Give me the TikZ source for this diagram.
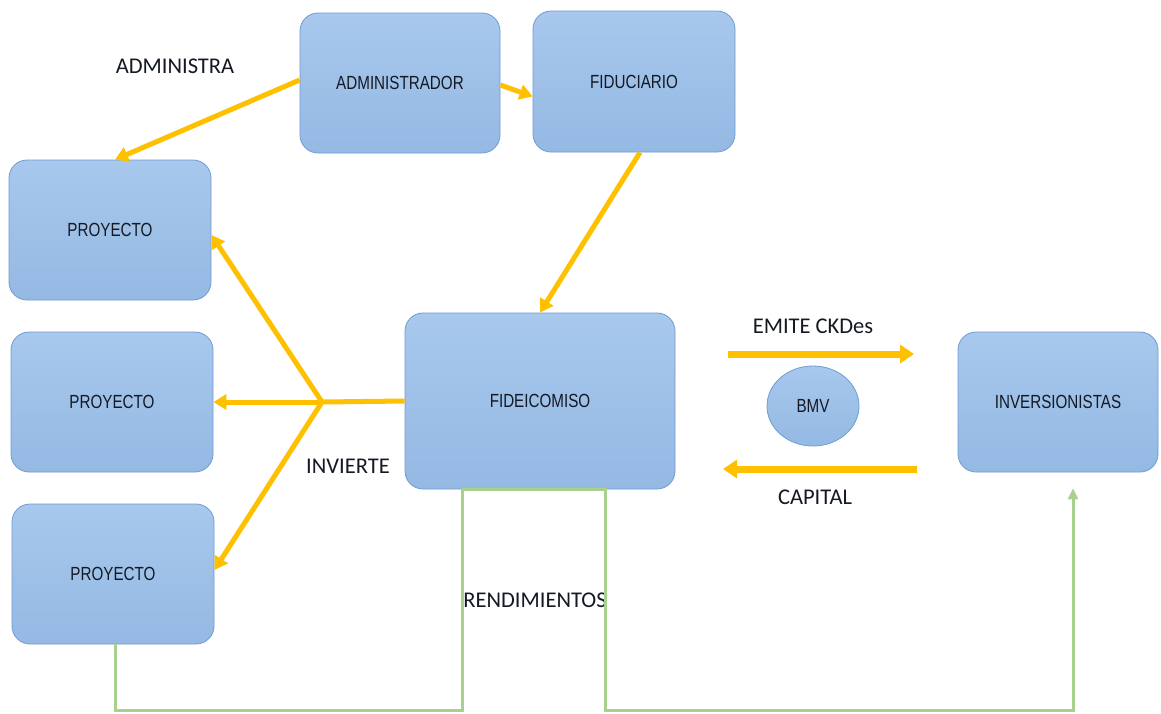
\documentclass[tikz,border=0pt]{standalone}
\usepackage{fontspec}
\setmainfont{Carlito}
\newfontfamily\narrowfont[FakeStretch=0.8]{Liberation Sans}
\usetikzlibrary{arrows.meta,shapes.geometric,calc}
\definecolor{boxtop}{RGB}{168,200,237}
\definecolor{boxbot}{RGB}{148,185,227}
\definecolor{boxline}{RGB}{112,155,210}
\definecolor{orangeln}{RGB}{255,192,0}
\definecolor{greenln}{RGB}{169,209,142}
\definecolor{txt}{RGB}{20,25,35}
\begin{document}
\begin{tikzpicture}[x=1pt,y=-1pt,
  box/.style={draw=boxline, line width=0.8pt, rounded corners=18pt,
    top color=boxtop, bottom color=boxbot, inner sep=0pt,
    text=txt, font=\narrowfont\fontsize{19}{19}\selectfont},
  oarrow/.style={draw=orangeln, line width=5pt, -{Triangle[length=13pt,width=15pt]}},
  oline/.style={draw=orangeln, line width=5pt},
  thick oarrow/.style={draw=orangeln, line width=7pt, -{Triangle[length=14pt,width=18pt]}},
  gline/.style={draw=greenln, line width=3pt},
  lbl/.style={text=txt, font=\fontsize{22.5}{22.5}\selectfont, inner sep=0pt}
]
\useasboundingbox (0,0) rectangle (1161,713);
\fill[white] (0,0) rectangle (1161,713);

% boxes
\node[box, minimum width=200pt, minimum height=140pt] (adm) at (400,83) {ADMINISTRADOR};
\node[box, minimum width=202pt, minimum height=141pt] (fid) at (634,81.5) {FIDUCIARIO};
\node[box, minimum width=202pt, minimum height=140pt] (p1) at (110,230) {PROYECTO};
\node[box, minimum width=202pt, minimum height=140pt] (p2) at (112,402) {PROYECTO};
\node[box, minimum width=202pt, minimum height=140pt] (p3) at (113,574) {PROYECTO};
\node[box, minimum width=270pt, minimum height=176pt] (fide) at (540,401) {FIDEICOMISO};
\node[box, minimum width=200pt, minimum height=140pt] (inv) at (1058,402) {INVERSIONISTAS};
\node[ellipse, draw=boxline, line width=0.8pt, top color=boxtop, bottom color=boxbot,
  minimum width=92pt, minimum height=80pt, inner sep=0pt, text=txt,
  font=\narrowfont\fontsize{19}{19}\selectfont] (bmv) at (813,406) {BMV};

% labels
\node[lbl] (tadm) at (175,66) {ADMINISTRA};
\node[lbl] (tinv) at (348,466) {INVIERTE};
\node[lbl] (temi) at (813,326) {EMITE CKDes};
\node[lbl] (tcap) at (815,497) {CAPITAL};
\node[lbl] (tren) at (535,600) {RENDIMIENTOS};

% coordinates
\coordinate (J) at (322,402);
\coordinate (e1) at (728,354);
\coordinate (e2) at (914,354);
\coordinate (c1) at (917,469);
\coordinate (c2) at (723,469);
\coordinate (G) at (1073,498);

% orange arrows
\draw[oarrow] ($(adm.west)+(0,-3)$) -- ($(p1.north)+(5,0)$);
\draw[oarrow] ($(adm.east)+(0,2)$) -- ($(fid.west)+(0,15)$);
\draw[oarrow] ($(fid.south)+(6,0)$) -- (fide.north);
\draw[oline] (fide.west) -- (J);
\draw[oarrow] (J) -- (p2.east);
\draw[oarrow] (J) -- ($(p1.east)+(0,5)$);
\draw[oarrow] (J) -- ($(p3.east)+(0,-4)$);
\draw[thick oarrow] (e1) -- (e2);
\draw[thick oarrow] (c1) -- (c2);

% green lines
\draw[gline] ($(p3.south)+(2,0)$) |- (462,710) |- (605,489) -- (605,710) -| (G);
\draw[greenln, fill=greenln] (G) ++(0,-9) -- ++(-5,10) -- ++(10,0) -- cycle;
\end{tikzpicture}
\end{document}
